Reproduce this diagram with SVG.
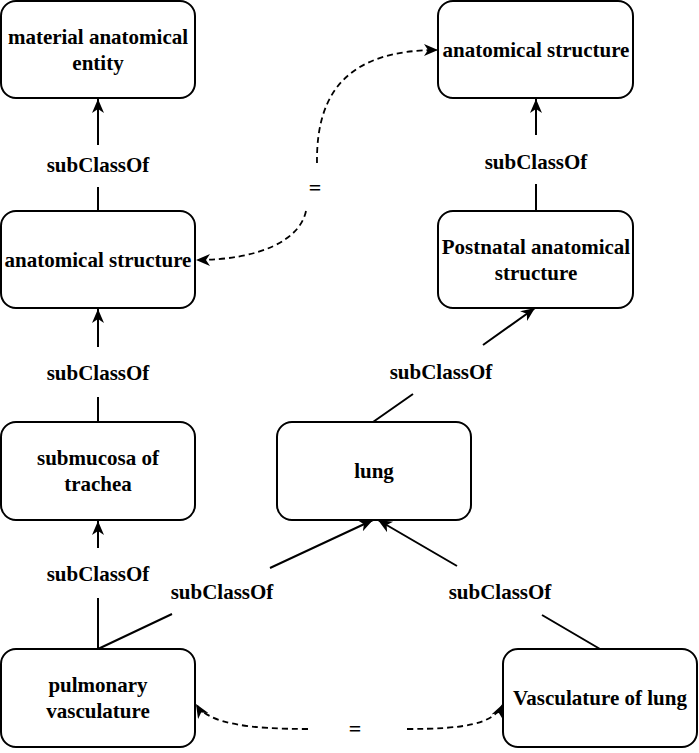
<svg xmlns="http://www.w3.org/2000/svg" width="699" height="753" viewBox="0 0 699 753">
<defs>
<style>
.box{fill:#fff;stroke:#000;stroke-width:2}
.t{font-family:"Liberation Serif","Times New Roman",serif;font-weight:bold;font-size:21px;fill:#000;text-anchor:middle}
.eq{font-family:"Liberation Serif","Times New Roman",serif;font-weight:bold;font-size:22px;fill:#000;text-anchor:middle}
.e{fill:none;stroke:#000;stroke-width:2}
.d{fill:none;stroke:#000;stroke-width:1.8;stroke-dasharray:6 4}
</style>
<marker id="arr" markerUnits="userSpaceOnUse" markerWidth="16" markerHeight="14" refX="14" refY="6" orient="auto-start-reverse" viewBox="0 0 16 14">
<path d="M0,0 L14,6 L0,12 L4,6 z" fill="#000"/>
</marker>
</defs>

<g id="connectors">
<path class="e" d="M98,211 L98,187 M98,145 L98,99" marker-end="url(#arr)"/>
<path class="e" d="M98,422 L98,397 M98,347 L98,309" marker-end="url(#arr)"/>
<path class="e" d="M98,649 L98,598 M98,548 L98,521" marker-end="url(#arr)"/>
<path class="e" d="M536,211 L536,184 M536,135 L536,99" marker-end="url(#arr)"/>
<path class="e" d="M373,422 L413,394 M483,345 L535,308" marker-end="url(#arr)"/>
<path class="e" d="M98,649 L172,614 M270,568 L373,520" marker-end="url(#arr)"/>
<path class="e" d="M600,649 L542,615 M457,566 L378,520" marker-end="url(#arr)"/>
<path class="d" d="M306,211 C300,240 260,260 196,260" marker-end="url(#arr)"/>
<path class="d" d="M317,163 C316,90 350,50 438,50" marker-end="url(#arr)"/>
<path class="d" d="M308,729 C250,729 208,724 196,704" marker-end="url(#arr)"/>
<path class="d" d="M407,729 C465,729 494,724 503,704" marker-end="url(#arr)"/>
<text class="t" x="98" y="172">subClassOf</text>
<text class="t" x="98" y="380">subClassOf</text>
<text class="t" x="98" y="581">subClassOf</text>
<text class="t" x="536" y="169">subClassOf</text>
<text class="t" x="441" y="379">subClassOf</text>
<text class="t" x="222" y="599">subClassOf</text>
<text class="t" x="500" y="599">subClassOf</text>
<text class="eq" x="315" y="195">=</text>
<text class="eq" x="355" y="736">=</text>
</g>

<g id="material-anatomical-entity">
<rect class="box" x="1" y="1" width="194" height="97" rx="15"/>
<text class="t" x="98" y="44">material anatomical</text>
<text class="t" x="98" y="70">entity</text>
</g>
<g id="anatomical-structure-left">
<rect class="box" x="1" y="211" width="194" height="97" rx="15"/>
<text class="t" x="98" y="267">anatomical structure</text>
</g>
<g id="submucosa-of-trachea">
<rect class="box" x="1" y="422" width="194" height="98" rx="15"/>
<text class="t" x="98" y="465">submucosa of</text>
<text class="t" x="98" y="491">trachea</text>
</g>
<g id="pulmonary-vasculature">
<rect class="box" x="1" y="649" width="194" height="98" rx="15"/>
<text class="t" x="98" y="692">pulmonary</text>
<text class="t" x="98" y="718">vasculature</text>
</g>
<g id="anatomical-structure-right">
<rect class="box" x="438" y="1" width="195" height="97" rx="15"/>
<text class="t" x="536" y="57">anatomical structure</text>
</g>
<g id="postnatal-anatomical-structure">
<rect class="box" x="438" y="211" width="195" height="97" rx="15"/>
<text class="t" x="536" y="254">Postnatal anatomical</text>
<text class="t" x="536" y="280">structure</text>
</g>
<g id="lung">
<rect class="box" x="277" y="422" width="194" height="98" rx="15"/>
<text class="t" x="374" y="478">lung</text>
</g>
<g id="vasculature-of-lung">
<rect class="box" x="503" y="649" width="194" height="98" rx="15"/>
<text class="t" x="600" y="705">Vasculature of lung</text>
</g>
</svg>
